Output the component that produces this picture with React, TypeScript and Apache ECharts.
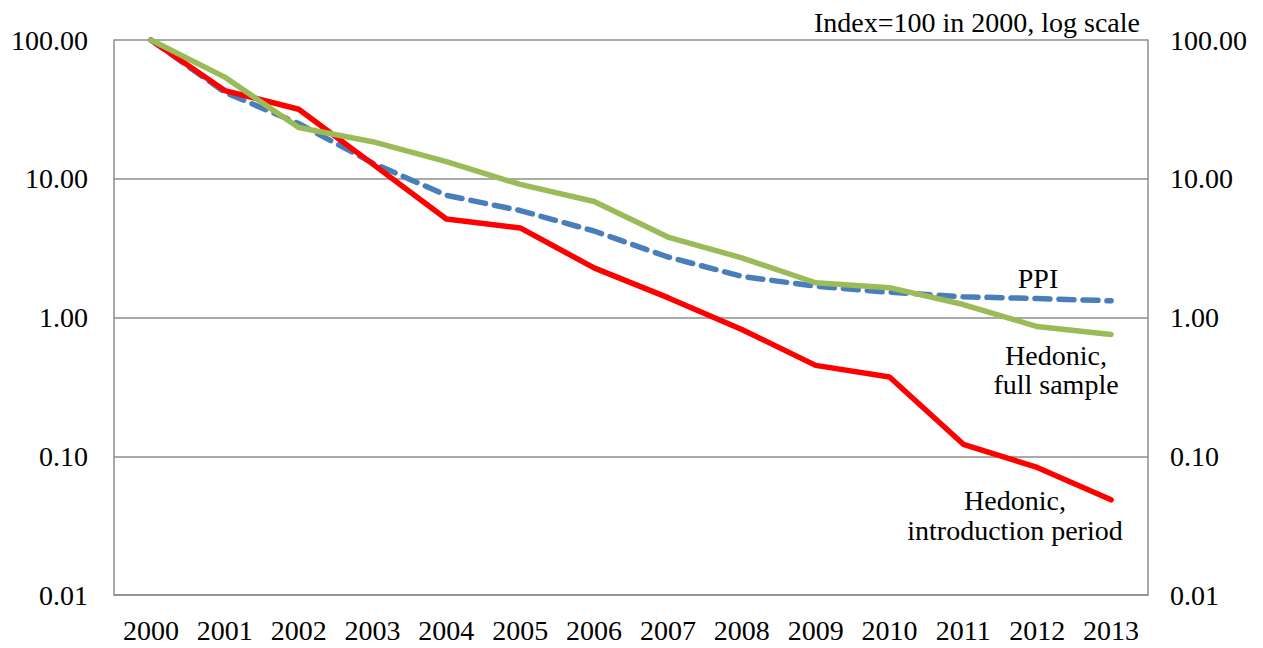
import { useEffect, useRef } from "react";
import * as echarts from "echarts";

const years = ["2000", "2001", "2002", "2003", "2004", "2005", "2006", "2007", "2008", "2009", "2010", "2011", "2012", "2013"];

// Index=100 in 2000
const ppi = [100, 42, 25, 13.0, 7.6, 5.9, 4.2, 2.73, 1.98, 1.68, 1.52, 1.41, 1.37, 1.32];
const hedonicFull = [100, 54, 23.4, 18.5, 13.3, 9.1, 6.85, 3.8, 2.69, 1.78, 1.64, 1.24, 0.86, 0.755];
const hedonicIntro = [100, 43.2, 31.7, 12.8, 5.13, 4.42, 2.28, 1.39, 0.82, 0.452, 0.372, 0.122, 0.083, 0.0485];

const FONT = "Liberation Serif";
const FS = 28;

export default function App() {
    const chartRef = useRef<HTMLDivElement | null>(null);

    useEffect(() => {
        document.body.style.margin = "0";
        if (!chartRef.current) return;

        const chart = echarts.init(chartRef.current, undefined, { renderer: "svg" });

        const yAxisBase = {
            type: "log" as const,
            logBase: 10,
            min: 0.01,
            max: 100,
            axisLine: { show: true, lineStyle: { color: "#8c8c8c", width: 1.5 } },
            axisTick: { show: false },
            splitLine: { show: true, lineStyle: { color: "#8c8c8c", width: 1.5 } },
            axisLabel: {
                color: "#000",
                fontFamily: FONT,
                fontSize: FS,
                margin: 26,
                formatter: (v: number) => v.toFixed(2),
            },
        };

        const labelStyle = {
            fill: "#000",
            fontFamily: FONT,
            fontSize: FS,
            textAlign: "center",
            textVerticalAlign: "middle",
        };

        chart.setOption({
            animation: false,
            backgroundColor: "#fff",
            grid: { left: 114, right: 115, top: 40, bottom: 53, containLabel: false },
            xAxis: {
                type: "category",
                data: years,
                boundaryGap: true,
                axisLine: { show: true, lineStyle: { color: "#8c8c8c", width: 1.5 } },
                axisTick: { show: false },
                axisLabel: { color: "#000", fontFamily: FONT, fontSize: FS, margin: 21, interval: 0 },
            },
            yAxis: [
                { ...yAxisBase, position: "left" },
                { ...yAxisBase, position: "right", splitLine: { show: false }, axisLabel: { ...yAxisBase.axisLabel, margin: 22 } },
            ],
            series: [
                {
                    name: "PPI",
                    type: "line",
                    data: ppi,
                    showSymbol: false,
                    lineStyle: { color: "#4a7ebb", width: 5.5, type: [15, 9], cap: "round" },
                },
                {
                    name: "Hedonic, introduction period",
                    type: "line",
                    data: hedonicIntro,
                    showSymbol: false,
                    lineStyle: { color: "#ff0000", width: 5.5, cap: "round" },
                },
                {
                    name: "Hedonic, full sample",
                    type: "line",
                    data: hedonicFull,
                    showSymbol: false,
                    lineStyle: { color: "#9bbb59", width: 5.5, cap: "round" },
                },
            ],
            graphic: [
                { type: "text", x: 1140, y: 22, style: { ...labelStyle, textAlign: "right", text: "Index=100 in 2000, log scale" } },
                { type: "text", x: 1038, y: 278, style: { ...labelStyle, text: "PPI" } },
                { type: "text", x: 1056, y: 355, style: { ...labelStyle, text: "Hedonic," } },
                { type: "text", x: 1056, y: 384, style: { ...labelStyle, text: "full sample" } },
                { type: "text", x: 1015, y: 500, style: { ...labelStyle, text: "Hedonic," } },
                { type: "text", x: 1015, y: 530, style: { ...labelStyle, text: "introduction period" } },
            ],
        });

        return () => {
            chart.dispose();
        };
    }, []);

    return <div ref={chartRef} style={{ width: 1263, height: 648 }} />;
}
